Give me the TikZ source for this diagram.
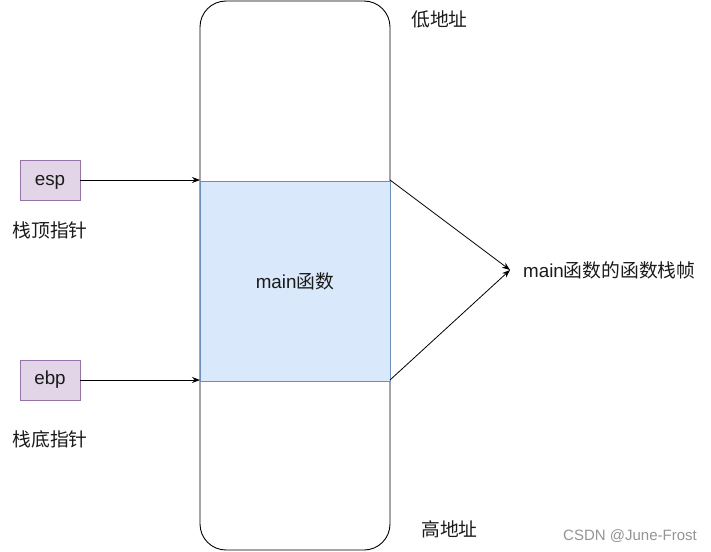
\documentclass[tikz,border=0pt]{standalone}
\usepackage{fontspec}
\setmainfont{Liberation Sans}
\newfontfamily\cjk{Noto Sans CJK SC}
\usetikzlibrary{arrows.meta}
\definecolor{bluefill}{HTML}{DAE8FC}
\definecolor{blueline}{HTML}{6C8EBF}
\definecolor{purplefill}{HTML}{E1D5E7}
\definecolor{purpleline}{HTML}{9673A6}
\definecolor{txt}{HTML}{1A1A1A}
\begin{document}
\begin{tikzpicture}[x=1pt,y=-1pt,
  every node/.style={font=\fontsize{18.8}{22}\selectfont, text=txt, inner sep=0pt},
  regbox/.style={draw=purpleline, fill=purplefill, line width=0.8pt, minimum width=60pt, minimum height=40pt},
  conn/.style={-{Stealth[length=8pt,width=6pt]}, line width=0.8pt},
  lbl/.style={anchor=west}]
\useasboundingbox (0,0) rectangle (711,551);
% stack outline
\draw[line width=0.9pt, rounded corners=26pt] (200,1) rectangle (390,550);
% main frame
\node[draw=blueline, fill=bluefill, line width=0.8pt, minimum width=190pt, minimum height=200pt] (frame) at (295,281) {main\cjk 函数};
\coordinate (ftl) at (200,180);
\coordinate (fbl) at (200,380);
\coordinate (ftr) at (390,180);
\coordinate (fbr) at (390,380);
% registers
\node[regbox, text depth=0pt] (esp) at (50,180) {esp};
\node[regbox] (ebp) at (50,380) {ebp};
\draw[conn] (esp.east) -- (ftl);
\draw[conn] (ebp.east) -- (fbl);
\node (esplbl) at (50,230) {\cjk 栈顶指针};
\node (ebplbl) at (50,439) {\cjk 栈底指针};
% labels
\node[lbl] (low) at (411,19) {\cjk 低地址};
\node[lbl] (high) at (421,529) {\cjk 高地址};
\coordinate (meet) at (510,270);
\node[lbl] (stackframe) at (523,270) {main\cjk 函数的函数栈帧};
\draw[conn] (ftr) -- (meet);
\draw[conn] (fbr) -- (meet);
% watermark
\node[lbl, font=\fontsize{15}{18}\selectfont, text=black!42] (wm) at (563,536) {CSDN @June-Frost};
\end{tikzpicture}
\end{document}
